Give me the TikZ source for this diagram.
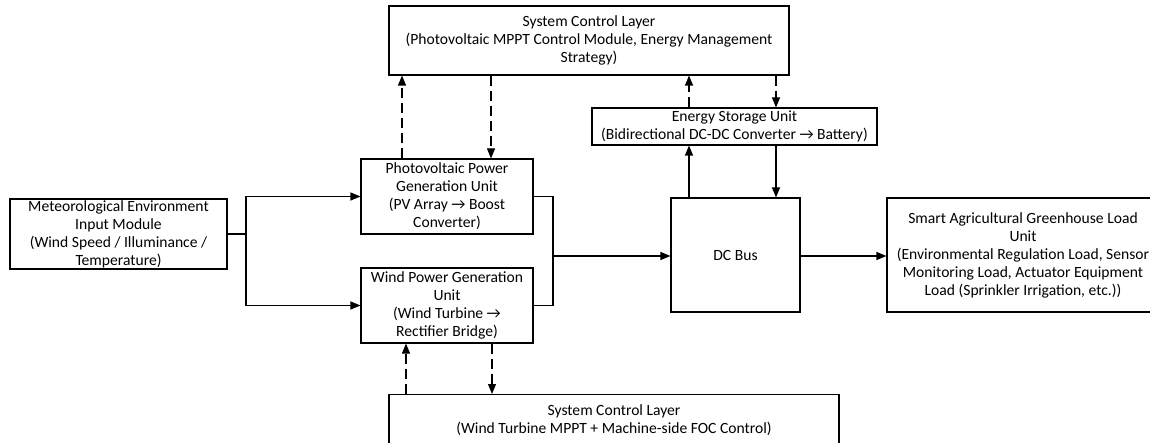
\documentclass[tikz,border=0pt]{standalone}
\usepackage{fontspec}
\setmainfont{Carlito}
\usetikzlibrary{arrows.meta}
\begin{document}
\begin{tikzpicture}[x=1pt,y=-1pt,
  box/.style={draw, line width=1.1pt, align=center, inner sep=0pt, font=\fontsize{15.6}{18}\selectfont},
  arr/.style={line width=1.1pt, -{Triangle[length=10pt,width=8pt]}},
  darr/.style={arr, dash pattern=on 10pt off 5pt},
  conn/.style={line width=1.1pt}]
\useasboundingbox (0,0) rectangle (1150,443);

\node[box, minimum width=400, minimum height=69] (top) at (589,40.5)
  {System Control Layer\\(Photovoltaic MPPT Control Module, Energy Management\\Strategy)};
\node[box, minimum width=217, minimum height=70] (met) at (118.5,234)
  {Meteorological Environment\\Input Module\\(Wind Speed / Illuminance /\\Temperature)};
\node[box, minimum width=172, minimum height=75] (pv) at (447,196.5)
  {Photovoltaic Power\\Generation Unit\\(PV Array → Boost\\Converter)};
\node[box, minimum width=172, minimum height=75] (wind) at (447,305.5)
  {Wind Power Generation\\Unit\\(Wind Turbine →\\Rectifier Bridge)};
\node[box, minimum width=285, minimum height=37] (es) at (734.5,126.5)
  {Energy Storage Unit\\(Bidirectional DC-DC Converter → Battery)};
\node[box, minimum width=129, minimum height=114] (dc) at (735.5,255) {DC Bus};
\node[box, minimum width=272, minimum height=114] (load) at (1023,255)
  {Smart Agricultural Greenhouse Load\\Unit\\(Environmental Regulation Load, Sensor\\Monitoring Load, Actuator Equipment\\Load (Sprinkler Irrigation, etc.))};
\node[box, minimum width=450, minimum height=72, anchor=north] (bot) at (614,394)
  {System Control Layer\\(Wind Turbine MPPT + Machine-side FOC Control)\\ \strut};

\coordinate (j1) at (246,234);
\coordinate (j2) at (553,256);
\coordinate (xa) at (402,0);
\coordinate (xb) at (491,0);
\coordinate (xc) at (406,0);
\coordinate (xd) at (492,0);
\coordinate (xe) at (689,0);
\coordinate (xf) at (776,0);

% inputs
\draw[conn] (met.east) -- (j1);
\draw[arr] (j1) |- (pv.west);
\draw[arr] (j1) |- (wind.west);
% to DC bus
\draw[conn] (pv.east) -| (j2);
\draw[conn] (wind.east) -| (j2);
\draw[arr] (j2) -- (dc.west |- j2);
\draw[arr] (dc.east |- j2) -- (load.west |- j2);
% control links PV
\draw[darr] (pv.north -| xa) -- (top.south -| xa);
\draw[darr] (top.south -| xb) -- (pv.north -| xb);
% control links wind
\draw[darr] (bot.north -| xc) -- (wind.south -| xc);
\draw[darr] (wind.south -| xd) -- (bot.north -| xd);
% energy storage
\draw[darr] (es.north -| xe) -- (top.south -| xe);
\draw[darr] (top.south -| xf) -- (es.north -| xf);
\draw[arr] (dc.north -| xe) -- (es.south -| xe);
\draw[arr] (es.south -| xf) -- (dc.north -| xf);
\end{tikzpicture}
\end{document}
